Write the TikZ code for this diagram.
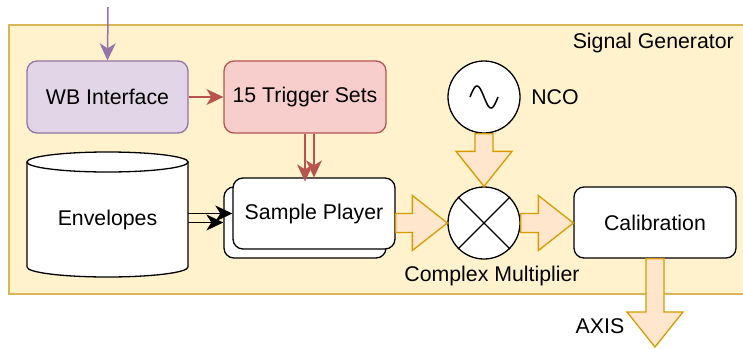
\documentclass[tikz,border=0pt]{standalone}
\usepackage{fontspec}
\setmainfont{Liberation Sans}
\usetikzlibrary{arrows.meta,calc}
\definecolor{sgfill}{HTML}{FFF2CC}
\definecolor{sgdraw}{HTML}{D6B656}
\definecolor{pufill}{HTML}{E1D5E7}
\definecolor{pudraw}{HTML}{9673A6}
\definecolor{rdfill}{HTML}{F8CECC}
\definecolor{rddraw}{HTML}{B85450}
\definecolor{orfill}{HTML}{FFE6CC}
\definecolor{ordraw}{HTML}{D79B00}
\tikzset{
  every node/.style={font=\fontsize{21.3}{25}\selectfont},
  box/.style={draw=black, fill=white, rounded corners=10pt, line width=1.3pt, minimum width=161pt, minimum height=71pt, inner sep=0pt},
  ring/.style={circle, draw=black, fill=white, line width=1.3pt, minimum size=72pt, inner sep=0pt},
  txt/.style={inner sep=0pt},
  tip/.style={-{Stealth[length=17pt,width=16pt,inset=5pt]}, line width=1.5pt},
  flex/.style={fill=orfill, draw=ordraw, line width=1.3pt, line join=miter},
}
\newcommand\FlexH[2]{\draw[flex] let \p1=(#1), \p2=(#2) in
  (\x1,\y1+9.5pt) -- (\x2-35pt,\y1+9.5pt) -- (\x2-35pt,\y1+27.5pt) -- (\x2,\y1)
  -- (\x2-35pt,\y1-27.5pt) -- (\x2-35pt,\y1-9.5pt) -- (\x1,\y1-9.5pt) -- cycle;}
\newcommand\FlexV[2]{\draw[flex] let \p1=(#1), \p2=(#2) in
  (\x1-9pt,\y1) -- (\x1-9pt,\y2+35pt) -- (\x1-28pt,\y2+35pt) -- (\x1,\y2)
  -- (\x1+28pt,\y2+35pt) -- (\x1+9pt,\y2+35pt) -- (\x1+9pt,\y1) -- cycle;}
\begin{document}
\begin{tikzpicture}[x=1pt,y=-1pt]
\useasboundingbox (0,0) rectangle (743,348);
% container
\draw[fill=sgfill, draw=sgdraw, line width=1.3pt] (9,25) rectangle (760,294);
\node[txt, anchor=east] (sglabel) at (734,43) {Signal Generator};

% boxes
\node[box, fill=pufill, draw=pudraw, minimum height=72pt] (wb) at (107.5,97) {WB Interface};
\node[box, fill=rdfill, draw=rddraw, minimum width=162pt, minimum height=72pt] (trig) at (305,97) {15 Trigger Sets};
\coordinate (wbin) at (108,7);
\draw[tip, draw=pudraw, fill=pudraw] (wbin) -- (wb.north);
\draw[tip, draw=rddraw, fill=rddraw] (wb.east) -- (trig.west);

% envelopes cylinder
\draw[fill=white, line width=1.3pt] (27,162) -- (27,267)
  arc[start angle=180, end angle=360, x radius=80.5pt, y radius=10pt] -- (188,162) -- cycle;
\draw[fill=white, line width=1.3pt] (107.5,162) ellipse[x radius=80.5pt, y radius=10pt];
\node[txt, minimum width=161pt, minimum height=125pt] (env) at (107.5,220) {Envelopes};

% sample players
\node[box, minimum width=162pt] (spb) at (305,222.5) {};
\node[box, minimum width=162pt] (spf) at (314,213.5) {Sample Player};
\draw[tip, draw=rddraw, fill=rddraw, shorten >=5pt] (trig.south) -- (spb.north);
\draw[tip, draw=rddraw, fill=rddraw] (trig.south -| spf.north) -- (spf.north);
\draw[tip, draw=black, fill=black] (env.east |- spf.west) -- (spf.west);
\draw[tip, draw=black, fill=black] (env.east |- spb.west) -- (spb.west);

% NCO and multiplier
\node[ring] (nco) at (484,97) {};
\draw[line width=1.5pt] plot[domain=0:360, samples=50, smooth] ({470+28*\x/360},{97-11*sin(\x)});
\node[txt] (ncolabel) at (555,97) {NCO};
\node[ring] (mul) at (484,223) {};
\draw[line width=1.3pt] (mul.45) -- (mul.225) (mul.135) -- (mul.-45);
\node[txt] (mullabel) at (492,276) {Complex Multiplier};

% calibration
\node[box, minimum width=162pt] (cal) at (655,222.5) {Calibration};
\coordinate (axisend) at (655,347);
\node[txt] (axislabel) at (600,326) {AXIS};

% flex arrows
\coordinate (spout) at (spf.east |- mul.west);
\FlexH{spout}{mul.west}
\FlexV{nco.south}{mul.north}
\FlexH{mul.east}{cal.west}
\FlexV{cal.south}{axisend}
\end{tikzpicture}
\end{document}
